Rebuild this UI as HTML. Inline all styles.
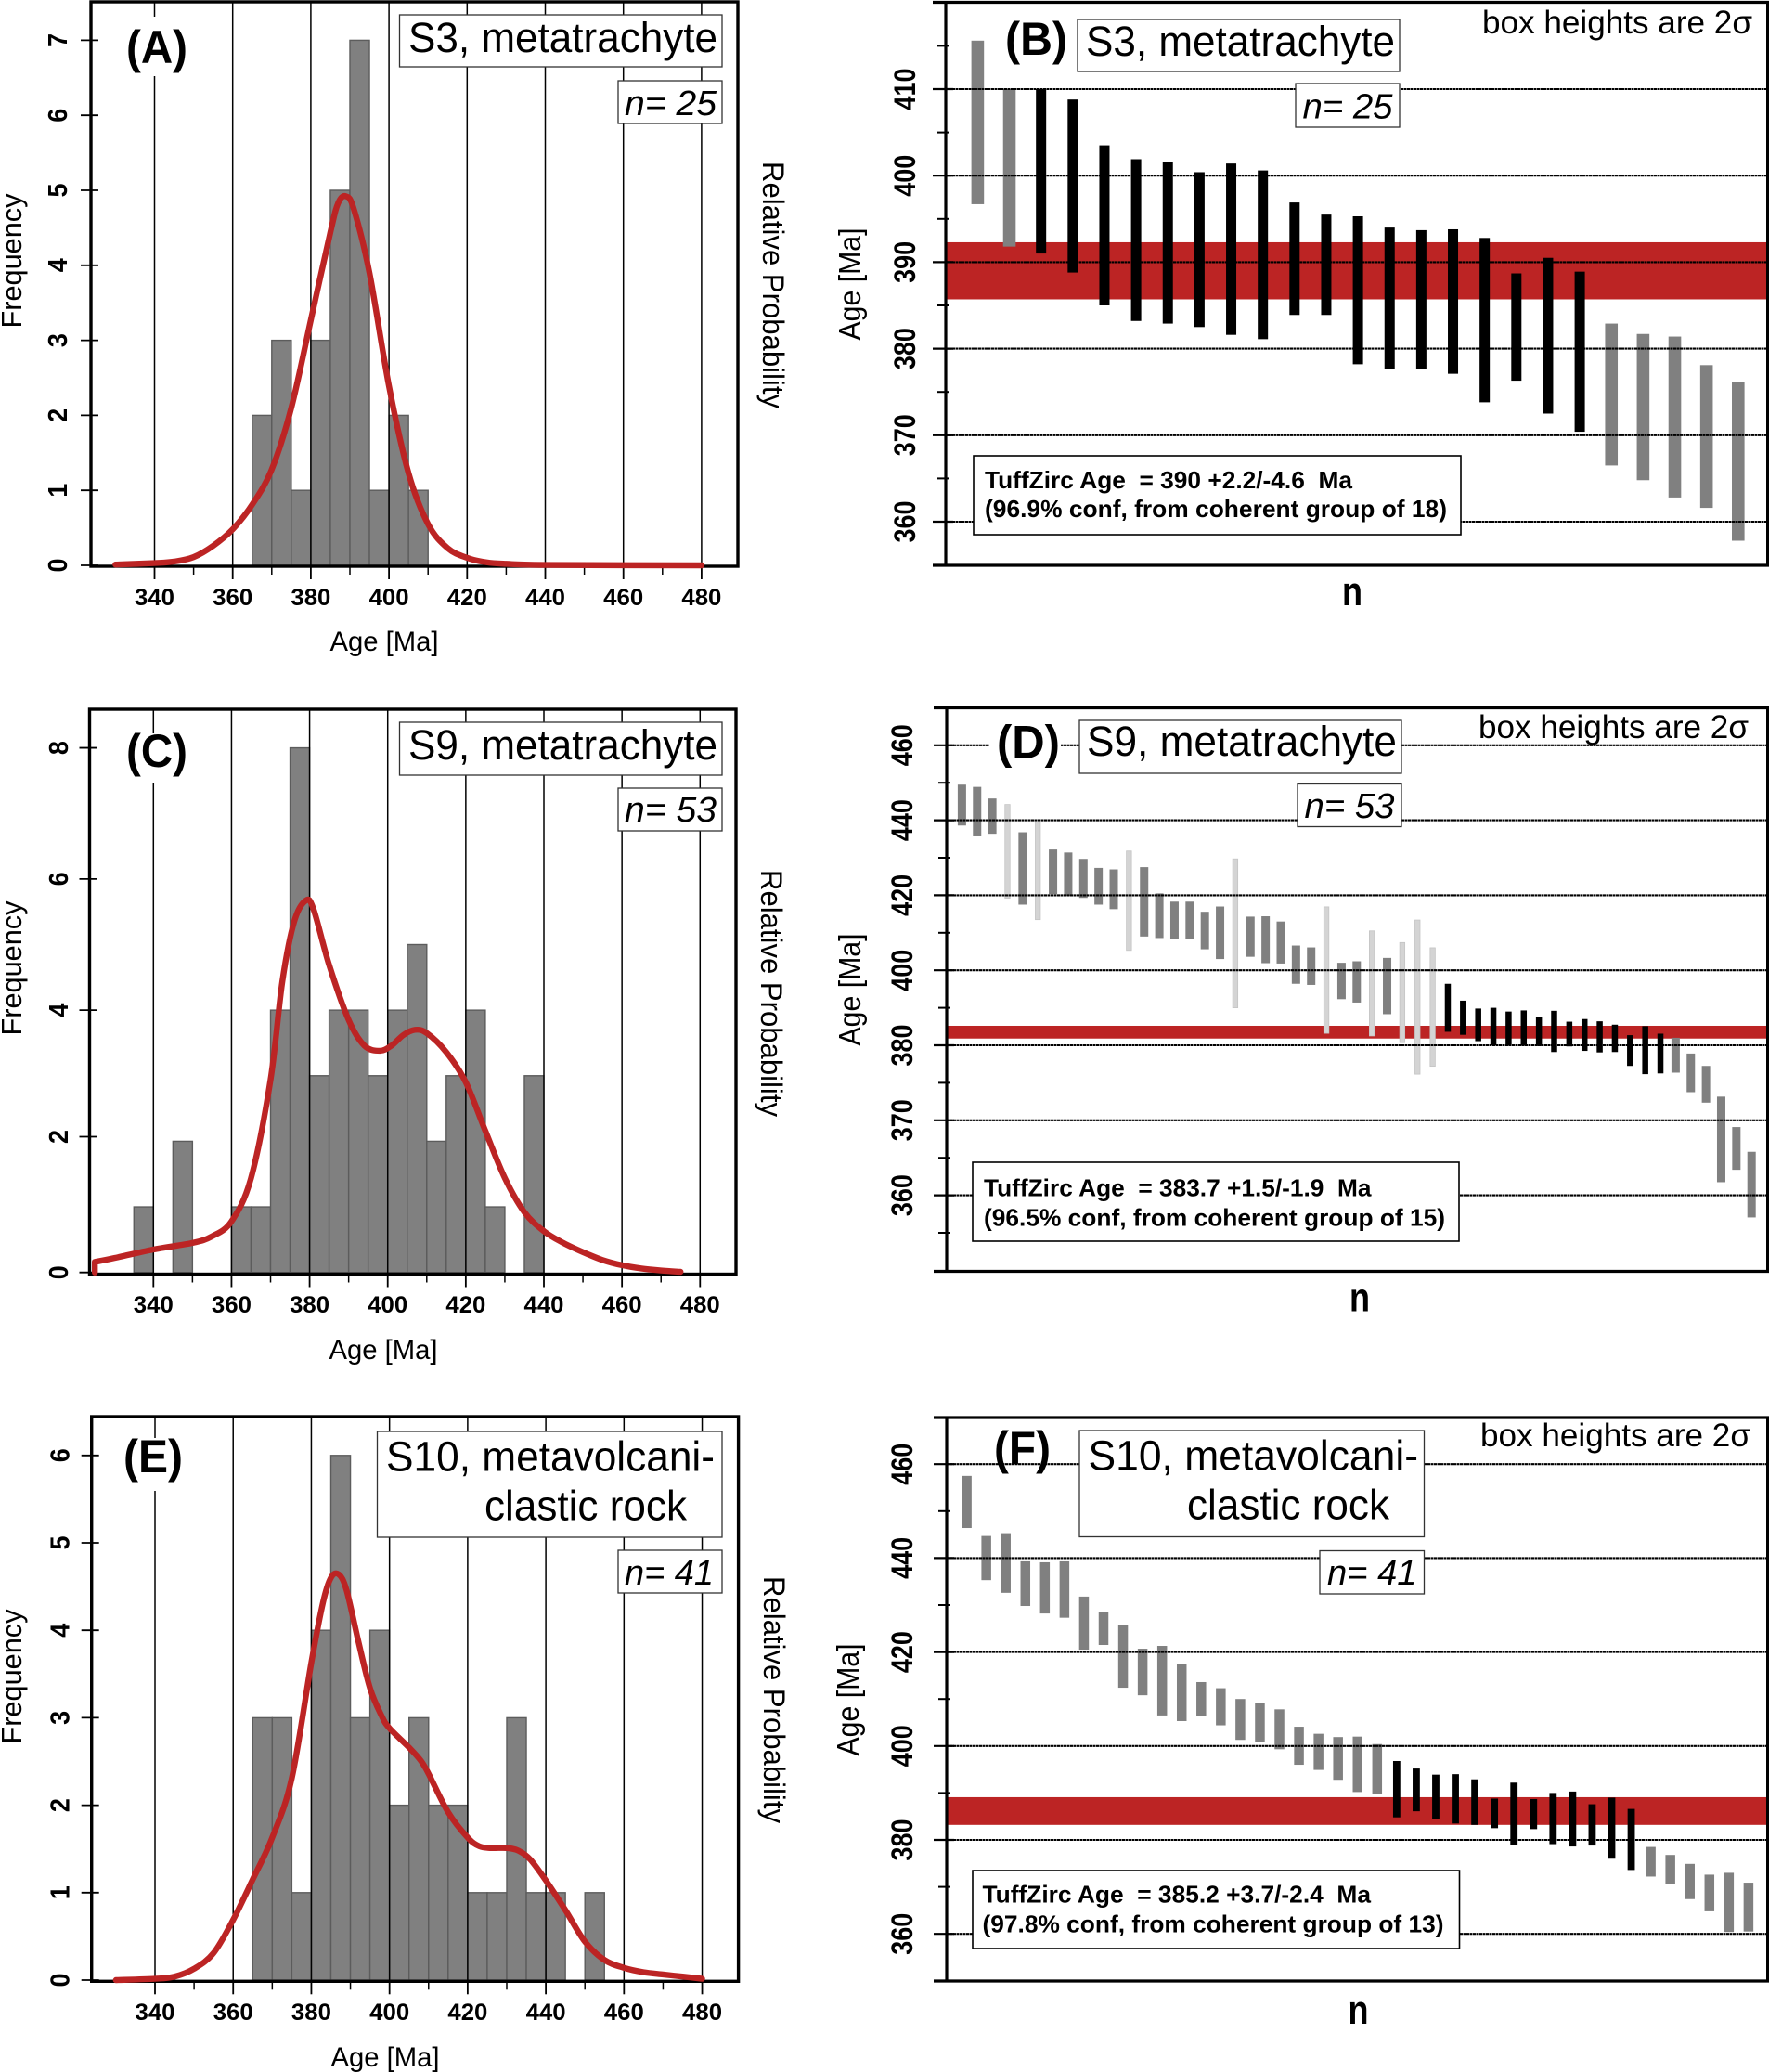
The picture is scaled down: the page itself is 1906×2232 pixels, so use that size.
<!DOCTYPE html>
<html lang="en">
<head>
<meta charset="utf-8">
<title>TuffZirc age plots for samples S3, S9 and S10</title>
<style>
html,body{margin:0;padding:0;background:#fff;}
svg{display:block;font-family:"Liberation Sans",Arial,sans-serif;}
.title{font-size:45px;fill:#000;}
.nlab{font-size:38px;font-style:italic;fill:#000;}
.plab{font-size:50px;font-weight:bold;fill:#000;}
.note{font-size:35px;fill:#000;}
.tuff{font-size:26px;font-weight:bold;fill:#000;white-space:pre;}
.nax{font-size:44px;font-weight:bold;fill:#000;}
.box{fill:#fff;stroke:#333;stroke-width:1.3;}
.tbox{fill:#fff;stroke:#000;stroke-width:1.6;}
</style>
</head>
<body>
<svg id="figure" xmlns="http://www.w3.org/2000/svg" width="1906" height="2232" viewBox="0 0 1906 2232">
<rect width="1906" height="2232" fill="#fff"/>

<g>
  <g id="panel-a-marks"></g>
  <rect x="134" y="18" width="70" height="64" fill="#fff"/>
  <text class="plab" x="136" y="68" textLength="66" lengthAdjust="spacingAndGlyphs">(A)</text>
  <rect class="box" x="430.5" y="16" width="347.5" height="56"/>
  <text class="title" x="440" y="56" textLength="333" lengthAdjust="spacingAndGlyphs">S3, metatrachyte</text>
  <rect class="box" x="666" y="87" width="112" height="46"/>
  <text class="nlab" x="673" y="124" textLength="99" lengthAdjust="spacingAndGlyphs">n= 25</text>
</g>

<g>
  <g id="panel-b-marks"></g>
  <text class="plab" x="1083" y="59" textLength="67" lengthAdjust="spacingAndGlyphs">(B)</text>
  <rect class="box" x="1161" y="21" width="347" height="56"/>
  <text class="title" x="1170" y="60" textLength="333" lengthAdjust="spacingAndGlyphs">S3, metatrachyte</text>
  <rect class="box" x="1396" y="90" width="112" height="47"/>
  <text class="nlab" x="1403.5" y="127.5" textLength="97" lengthAdjust="spacingAndGlyphs">n= 25</text>
  <text class="note" x="1597" y="36" textLength="291" lengthAdjust="spacingAndGlyphs">box heights are 2σ</text>
  <rect class="tbox" x="1049" y="491" width="525" height="85"/>
  <text class="tuff" x="1061" y="526" textLength="396" lengthAdjust="spacingAndGlyphs" xml:space="preserve">TuffZirc Age  = 390 +2.2/-4.6  Ma</text>
  <text class="tuff" x="1061" y="557" textLength="498" lengthAdjust="spacingAndGlyphs">(96.9% conf, from coherent group of 18)</text>
  <text class="nax" x="1446" y="652" textLength="22" lengthAdjust="spacingAndGlyphs">n</text>
</g>

<g>
  <g id="panel-c-marks"></g>
  <rect x="134" y="790" width="70" height="54" fill="#fff"/>
  <text class="plab" x="136" y="826" textLength="66" lengthAdjust="spacingAndGlyphs">(C)</text>
  <rect class="box" x="430.5" y="778" width="347.5" height="57"/>
  <text class="title" x="440" y="818" textLength="333" lengthAdjust="spacingAndGlyphs">S9, metatrachyte</text>
  <rect class="box" x="666" y="849" width="112" height="46"/>
  <text class="nlab" x="673" y="885" textLength="99" lengthAdjust="spacingAndGlyphs">n= 53</text>
</g>

<g>
  <g id="panel-d-marks"></g>
  <rect x="1066" y="780" width="77" height="50" fill="#fff"/>
  <text class="plab" x="1074" y="816.5" textLength="68" lengthAdjust="spacingAndGlyphs">(D)</text>
  <rect class="box" x="1163" y="776" width="347" height="57"/>
  <text class="title" x="1171" y="814" textLength="334" lengthAdjust="spacingAndGlyphs">S9, metatrachyte</text>
  <rect class="box" x="1398" y="844.5" width="112" height="46"/>
  <text class="nlab" x="1405.5" y="881" textLength="97" lengthAdjust="spacingAndGlyphs">n= 53</text>
  <text class="note" x="1593" y="795" textLength="291" lengthAdjust="spacingAndGlyphs">box heights are 2σ</text>
  <rect class="tbox" x="1048" y="1252" width="524" height="85"/>
  <text class="tuff" x="1060" y="1288.5" textLength="417.5" lengthAdjust="spacingAndGlyphs" xml:space="preserve">TuffZirc Age  = 383.7 +1.5/-1.9  Ma</text>
  <text class="tuff" x="1060" y="1320.5" textLength="497" lengthAdjust="spacingAndGlyphs">(96.5% conf, from coherent group of 15)</text>
  <text class="nax" x="1454" y="1412.5" textLength="22" lengthAdjust="spacingAndGlyphs">n</text>
</g>

<g>
  <g id="panel-e-marks"></g>
  <rect x="131" y="1549" width="68" height="57" fill="#fff"/>
  <text class="plab" x="133" y="1586" textLength="64" lengthAdjust="spacingAndGlyphs">(E)</text>
  <rect class="box" x="406.5" y="1542" width="371.5" height="114"/>
  <text class="title" x="416" y="1584.5" textLength="354" lengthAdjust="spacingAndGlyphs">S10, metavolcani-</text>
  <text class="title" x="522" y="1637.5" textLength="218" lengthAdjust="spacingAndGlyphs">clastic rock</text>
  <rect class="box" x="666" y="1670" width="112" height="46"/>
  <text class="nlab" x="673" y="1707" textLength="96" lengthAdjust="spacingAndGlyphs">n= 41</text>
</g>

<g>
  <g id="panel-f-marks"></g>
  <text class="plab" x="1071" y="1577" textLength="61" lengthAdjust="spacingAndGlyphs">(F)</text>
  <rect class="box" x="1163" y="1541" width="371.5" height="114.5"/>
  <text class="title" x="1172.5" y="1583.5" textLength="355.5" lengthAdjust="spacingAndGlyphs">S10, metavolcani-</text>
  <text class="title" x="1279" y="1636.5" textLength="218" lengthAdjust="spacingAndGlyphs">clastic rock</text>
  <rect class="box" x="1422" y="1670.5" width="112.5" height="46.5"/>
  <text class="nlab" x="1430" y="1707" textLength="96.5" lengthAdjust="spacingAndGlyphs">n= 41</text>
  <text class="note" x="1595" y="1558" textLength="291" lengthAdjust="spacingAndGlyphs">box heights are 2σ</text>
  <rect class="tbox" x="1048" y="2015" width="524.5" height="84"/>
  <text class="tuff" x="1058.5" y="2049.5" textLength="418.5" lengthAdjust="spacingAndGlyphs" xml:space="preserve">TuffZirc Age  = 385.2 +3.7/-2.4  Ma</text>
  <text class="tuff" x="1058.5" y="2081.5" textLength="497" lengthAdjust="spacingAndGlyphs">(97.8% conf, from coherent group of 13)</text>
  <text class="nax" x="1452.5" y="2180" textLength="22" lengthAdjust="spacingAndGlyphs">n</text>
</g>
</svg>

<script>
/* ---------- shared axis values ---------- */
const ageTickLabels = [340, 360, 380, 400, 420, 440, 460, 480];
const ageMinorTicks = [350, 370, 390, 410, 430, 450, 470];

/* ---------- panel A ---------- */
const panelABinStarts = [365, 370, 375, 380, 385, 390, 395, 400, 405];
const panelACounts = [2, 3, 1, 3, 5, 7, 1, 2, 1];
const panelAFreqTicks = [0, 1, 2, 3, 4, 5, 6, 7];
const panelAFreqLabels = ["0", "1", "2", "3", "4", "5", "6", "7"];
const panelACurveAges = [330, 340, 345, 350, 355, 360, 365, 370, 375, 380, 385, 387, 389, 391, 395, 400, 405, 410, 415, 420, 425, 430, 440, 480];
const panelACurveValues = [0.01, 0.03, 0.05, 0.11, 0.26, 0.48, 0.81, 1.28, 2.1, 3.27, 4.44, 4.83, 4.92, 4.75, 3.9, 2.39, 1.23, 0.55, 0.23, 0.1, 0.04, 0.02, 0.005, 0];

/* ---------- panel B ---------- */
const panelBUpper = [415.6, 410, 410, 408.8, 403.5, 401.9, 401.6, 400.4, 401.4, 400.6, 396.9, 395.5, 395.3, 394, 393.7, 393.8, 392.8, 388.7, 390.5, 388.9, 382.9, 381.7, 381.4, 378.1, 376.1];
const panelBLower = [396.7, 391.8, 391, 388.8, 385, 383.2, 382.9, 382.5, 381.6, 381.1, 383.9, 383.9, 378.2, 377.7, 377.6, 377.1, 373.8, 376.3, 372.5, 370.4, 366.5, 364.8, 362.8, 361.6, 357.8];
const panelBKinds = "ggkkkkkkkkkkkkkkkkkkggggg";
const panelBBand = [392.3, 385.7];
const panelBGridAges = [410, 400, 390, 380, 370, 360];
const panelBGridLabels = ["410", "400", "390", "380", "370", "360"];
const panelBMinorAges = [415, 405, 395, 385, 375, 365];

/* ---------- panel C (the "2" tick sits slightly high in the source figure) ---------- */
const panelCBinStarts = [335, 345, 360, 365, 370, 375, 380, 385, 390, 395, 400, 405, 410, 415, 420, 425, 435];
const panelCCounts = [1, 2, 1, 1, 4, 8, 3, 4, 4, 3, 4, 5, 2, 3, 4, 1, 3];
const panelCFreqTicks = [0, 2.07, 4, 6, 8];
const panelCFreqLabels = ["0", "2", "4", "6", "8"];
const panelCCurveAges = [325, 330, 340, 350, 355, 360, 365, 370, 373, 376, 379, 381, 385, 390, 394, 398, 401, 404, 407, 410, 415, 420, 425, 430, 435, 440, 445, 450, 455, 460, 465, 470, 475];
const panelCCurveValues = [0.16, 0.22, 0.35, 0.45, 0.55, 0.78, 1.44, 2.94, 4.43, 5.34, 5.67, 5.54, 4.69, 3.85, 3.46, 3.38, 3.46, 3.62, 3.7, 3.65, 3.36, 2.9, 2.16, 1.44, 0.92, 0.63, 0.45, 0.31, 0.19, 0.11, 0.06, 0.03, 0.01];

/* ---------- panel D (labels below 380 are printed as in the source figure) ---------- */
const panelDUpper = [449.5, 448.9, 445.8, 444.2, 436.8, 439.5, 432.2, 431.4, 429.7, 427.3, 426.9, 431.8, 427.5, 420.5, 418.3, 418.3, 415.6, 417, 429.7, 414.3, 414.4, 413, 406.6, 406.1, 416.9, 402, 402.4, 410.5, 403.3, 407.4, 413.4, 406, 396.4, 391.9, 389.8, 390, 389, 389.3, 387.6, 389.2, 386.3, 387, 386.4, 385.5, 382.7, 385.1, 383.1, 382, 377.8, 374.5, 366.3, 358.2, 351.6];
const panelDLower = [438.6, 435.7, 436.4, 419.2, 417.5, 413.5, 420.3, 419.8, 419.3, 417.5, 416.3, 405.3, 409, 408.6, 408.4, 408.3, 405.6, 403, 390, 403.6, 401.9, 401.8, 396.4, 396.1, 383.2, 392.3, 391.4, 382.5, 388.3, 380.7, 372.3, 374.4, 383.6, 382.8, 381.1, 380, 379.9, 379.9, 379.8, 378.2, 379.7, 378.5, 378.1, 378.2, 374.5, 372.3, 372.5, 372.7, 367.5, 364.7, 343.5, 346.8, 334.1];
const panelDKinds = "gggl" + "glgggggl" + "ggggggl" + "gggggl" + "gglgll" + "l" + "kkkkkkkkkkkkkkk" + "gggggg";
const panelDBand = [385.2, 381.8];
const panelDGridAges = [460, 440, 420, 400, 380, 360, 340];
const panelDGridLabels = ["460", "440", "420", "400", "380", "370", "360"];
const panelDMinorAges = [450, 430, 410, 390, 370, 350, 330];

/* ---------- panel E ---------- */
const panelEBinStarts = [365, 370, 375, 380, 385, 390, 395, 400, 405, 410, 415, 420, 425, 430, 435, 440, 450];
const panelECounts = [3, 3, 1, 4, 6, 3, 4, 2, 3, 2, 2, 1, 1, 3, 1, 1, 1];
const panelEFreqTicks = [0, 1, 2, 3, 4, 5, 6];
const panelEFreqLabels = ["0", "1", "2", "3", "4", "5", "6"];
const panelECurveAges = [330, 340, 345, 350, 355, 360, 365, 370, 375, 380, 383, 385, 387, 389, 392, 395, 398, 400, 405, 408, 410, 415, 420, 423, 426, 430, 433, 436, 440, 445, 450, 455, 460, 465, 470, 475, 480];
const panelECurveValues = [0, 0.015, 0.04, 0.13, 0.31, 0.69, 1.15, 1.63, 2.31, 3.63, 4.32, 4.6, 4.64, 4.46, 3.88, 3.34, 3.02, 2.88, 2.66, 2.51, 2.36, 1.92, 1.63, 1.53, 1.51, 1.51, 1.48, 1.38, 1.14, 0.8, 0.44, 0.23, 0.14, 0.09, 0.064, 0.04, 0.015];

/* ---------- panel F ---------- */
const panelFUpper = [457.5, 444.7, 445.3, 439.3, 439.1, 439.3, 431.8, 428.5, 425.7, 420.7, 421.3, 417.5, 413.6, 412.3, 410, 409.1, 407.8, 404.1, 402.6, 401.9, 402, 400.4, 396.8, 395.2, 393.9, 394, 392.9, 388.8, 392.2, 388.7, 390, 390.3, 387.6, 389, 386.6, 378.5, 376.8, 374.9, 372.6, 373, 370.9];
const panelFLower = [446.4, 435.3, 432.6, 429.8, 428.2, 427.3, 420.5, 421.5, 412.4, 410.8, 406.5, 405.3, 406.4, 404.4, 401.3, 400.9, 399.3, 396, 394.9, 392.8, 390.2, 389.8, 384.8, 386.1, 384.4, 383.5, 383.2, 382.5, 378.9, 382.3, 379.1, 378.6, 378.8, 376, 373.6, 372.2, 370.7, 367.4, 364.8, 360.4, 360.5];
const panelFKinds = "gggggggggggggggggggggg" + "kkkkkkkkkkkkk" + "gggggg";
const panelFBand = [389.1, 383.2];
const panelFGridAges = [460, 440, 420, 400, 380, 360];
const panelFGridLabels = ["460", "440", "420", "400", "380", "360"];
const panelFMinorAges = [450, 430, 410, 390, 370];

/* ---------- helpers ---------- */
const SVGNS = "http://www.w3.org/2000/svg";
const RED = "#bc2424";

function make(tag, parent) {
  const el = document.createElementNS(SVGNS, tag);
  parent.appendChild(el);
  return el;
}
function setLine(el, x1, y1, x2, y2, color, width) {
  el.setAttribute("x1", x1);
  el.setAttribute("y1", y1);
  el.setAttribute("x2", x2);
  el.setAttribute("y2", y2);
  el.setAttribute("stroke", color);
  el.setAttribute("stroke-width", width);
}
function setText(el, str, x, y, size, bold, length, rotate) {
  el.textContent = str;
  el.setAttribute("x", x);
  el.setAttribute("y", y);
  el.setAttribute("font-size", size);
  el.setAttribute("font-weight", bold ? "bold" : "normal");
  el.setAttribute("text-anchor", "middle");
  el.setAttribute("fill", "#000");
  el.setAttribute("textLength", length);
  el.setAttribute("lengthAdjust", "spacingAndGlyphs");
  if (rotate) el.setAttribute("transform", "rotate(" + rotate + " " + x + " " + y + ")");
}
function smoothPath(points, startFrom) {
  let d = startFrom ? "M" + startFrom[0] + " " + startFrom[1] + "L" + points[0][0] + " " + points[0][1]
                    : "M" + points[0][0] + " " + points[0][1];
  for (let i = 0; i < points.length - 1; i++) {
    const p0 = points[Math.max(i - 1, 0)];
    const p1 = points[i];
    const p2 = points[i + 1];
    const p3 = points[Math.min(i + 2, points.length - 1)];
    const c1x = p1[0] + (p2[0] - p0[0]) / 6;
    const c1y = p1[1] + (p2[1] - p0[1]) / 6;
    const c2x = p2[0] - (p3[0] - p1[0]) / 6;
    const c2y = p2[1] - (p3[1] - p1[1]) / 6;
    d += "C" + c1x.toFixed(2) + " " + c1y.toFixed(2) + " " + c2x.toFixed(2) + " " + c2y.toFixed(2) + " " + p2[0].toFixed(2) + " " + p2[1].toFixed(2);
  }
  return d;
}

/* ---------- histogram panels ---------- */
function drawHistogram(id, s) {
  const root = document.getElementById("panel-" + id + "-marks");
  const xScale = a => s.x340 + (a - 340) * s.kx;
  const yScale = v => s.y0 - v * s.ky;

  s.binStarts.forEach(function (bin, i) {
    const bar = make("rect", root);
    
    
    bar.setAttribute("x", xScale(bin));
    bar.setAttribute("y", yScale(s.counts[i]));
    bar.setAttribute("width", xScale(bin + 5) - xScale(bin));
    bar.setAttribute("height", yScale(0) - yScale(s.counts[i]));
    bar.setAttribute("fill", "#808080");
    bar.setAttribute("stroke", "#5c5c5c");
    bar.setAttribute("stroke-width", "1.4");
  });

  ageTickLabels.forEach(function (age) {
    const grid = make("line", root);
    
    
    setLine(grid, xScale(age), s.top, xScale(age), s.bottom, "#000", 1.5);

    const tick = make("line", root);
    
    
    setLine(tick, xScale(age), s.bottom, xScale(age), s.bottom + 14, "#000", 1.8);

    const label = make("text", root);
    
    
    setText(label, String(age), xScale(age), s.xLabelY, 25, true, 43);
  });
  ageMinorTicks.forEach(function (age) {
    const tick = make("line", root);
    
    
    setLine(tick, xScale(age), s.bottom, xScale(age), s.bottom + 9, "#000", 1.5);
  });

  s.freqTicks.forEach(function (v, i) {
    const tick = make("line", root);
    
    
    setLine(tick, s.left - 11, yScale(v), s.left + 8, yScale(v), "#000", 1.8);

    const label = make("text", root);
    
    
    setText(label, s.freqLabels[i], s.yLabelX, yScale(v), 29, true, 15, -90);
  });

  const frame = make("rect", root);
  
  
  frame.setAttribute("x", s.left);
  frame.setAttribute("y", s.top);
  frame.setAttribute("width", s.right - s.left);
  frame.setAttribute("height", s.bottom - s.top);
  frame.setAttribute("fill", "none");
  frame.setAttribute("stroke", "#000");
  frame.setAttribute("stroke-width", "3.4");

  const curve = make("path", root);
  
  
  const pts = s.curveAges.map((a, i) => [xScale(a), yScale(s.curveValues[i])]);
  curve.setAttribute("d", smoothPath(pts, s.dropToBase ? [pts[0][0], yScale(0)] : null));
  curve.setAttribute("fill", "none");
  curve.setAttribute("stroke", RED);
  curve.setAttribute("stroke-width", "6.4");
  curve.setAttribute("stroke-linejoin", "round");
  curve.setAttribute("stroke-linecap", "round");

  const xTitle = make("text", root);
  
  
  setText(xTitle, "Age [Ma]", s.xTitleX, s.xTitleY, 30, false, 117);

  const yTitle = make("text", root);
  
  
  setText(yTitle, "Frequency", 23, s.freqTitleY, 31, false, 145, -90);

  const rightTitle = make("text", root);
  
  
  setText(rightTitle, "Relative Probability", s.probX, s.probY, 32, false, 266, 90);
}

/* ---------- ranked age-bar panels ---------- */
function drawAgeBars(id, s) {
  const root = document.getElementById("panel-" + id + "-marks");
  const yScale = a => s.refY + (s.refAge - a) * s.ky;
  const count = s.upper.length;
  const xScale = i => s.firstX + i * (s.lastX - s.firstX) / (count - 1);
  const colors = { g: "#808080", k: "#000000", l: "#d4d4d4" };

  const band = make("rect", root);
  
  
  band.setAttribute("x", s.left);
  band.setAttribute("y", yScale(s.band[0]));
  band.setAttribute("width", s.right - s.left);
  band.setAttribute("height", yScale(s.band[1]) - yScale(s.band[0]));
  band.setAttribute("fill", RED);

  s.upper.forEach(function (u, i) {
    const kind = s.kinds[i];
    const w = s.widths[kind];
    const bar = make("rect", root);
    
    
    bar.setAttribute("x", xScale(i) - w / 2);
    bar.setAttribute("y", yScale(u));
    bar.setAttribute("width", w);
    bar.setAttribute("height", yScale(s.lower[i]) - yScale(u));
    bar.setAttribute("fill", colors[kind]);
    if (kind === "l") {
      bar.setAttribute("stroke", "#c4c4c4");
      bar.setAttribute("stroke-width", "0.8");
    }
  });

  s.gridAges.forEach(function (age, i) {
    const grid = make("line", root);
    
    
    setLine(grid, s.left, yScale(age), s.right, yScale(age), "#000", 2.1);
    grid.setAttribute("stroke-dasharray", "3 0.5");

    const tick = make("line", root);
    
    
    setLine(tick, s.left - 14, yScale(age), s.left + 8, yScale(age), "#000", 2.2);

    const label = make("text", root);
    
    
    setText(label, s.gridLabels[i], s.labelX, yScale(age), 32, true, 45, -90);
  });

  s.minorAges.forEach(function (age) {
    const tick = make("line", root);
    
    
    setLine(tick, s.left - 9, yScale(age), s.left + 4, yScale(age), "#000", 2);
  });

  const spineLeft = make("line", root);
  
  
  setLine(spineLeft, s.left, s.top, s.left, s.bottom, "#000", 3.2);

  const spineRight = make("line", root);
  
  
  setLine(spineRight, s.right, s.top, s.right, s.bottom, "#000", 3);

  const spineTop = make("line", root);
  
  
  setLine(spineTop, s.left - 14, s.top, s.right + 1.5, s.top, "#000", 3.2);

  const spineBottom = make("line", root);
  
  
  setLine(spineBottom, s.left - 14, s.bottom, s.right + 1.5, s.bottom, "#000", 3.2);

  const yTitle = make("text", root);
  
  
  setText(yTitle, "Age [Ma]", s.titleX, s.titleY, 33, false, 121, -90);
}

/* ---------- draw ---------- */
drawHistogram("a", {
  binStarts: panelABinStarts, counts: panelACounts, freqTicks: panelAFreqTicks, freqLabels: panelAFreqLabels,
  curveAges: panelACurveAges, curveValues: panelACurveValues, dropToBase: false,
  x340: 166.5, kx: 4.21, y0: 609, ky: 80.8, left: 98, right: 795, top: 2, bottom: 610,
  xLabelY: 652, yLabelX: 72, xTitleX: 414, xTitleY: 701, freqTitleY: 281, probX: 822, probY: 307
});
drawAgeBars("b", {
  upper: panelBUpper, lower: panelBLower, kinds: panelBKinds, band: panelBBand,
  gridAges: panelBGridAges, gridLabels: panelBGridLabels, minorAges: panelBMinorAges,
  refAge: 410, refY: 96, ky: 9.32, left: 1019, right: 1904.5, top: 2.5, bottom: 609,
  firstX: 1053.4, lastX: 1872.8, widths: { g: 13.6, k: 11, l: 6 },
  labelX: 986, titleX: 927, titleY: 306
});
drawHistogram("c", {
  binStarts: panelCBinStarts, counts: panelCCounts, freqTicks: panelCFreqTicks, freqLabels: panelCFreqLabels,
  curveAges: panelCCurveAges, curveValues: panelCCurveValues, dropToBase: true,
  x340: 165.3, kx: 4.207, y0: 1370.7, ky: 70.64, left: 96.5, right: 793, top: 764, bottom: 1372.5,
  xLabelY: 1414, yLabelX: 73, xTitleX: 413, xTitleY: 1464, freqTitleY: 1043, probX: 820, probY: 1070
});
drawAgeBars("d", {
  upper: panelDUpper, lower: panelDLower, kinds: panelDKinds, band: panelDBand,
  gridAges: panelDGridAges, gridLabels: panelDGridLabels, minorAges: panelDMinorAges,
  refAge: 460, refY: 802.8, ky: 4.04, left: 1020, right: 1904.5, top: 762.5, bottom: 1369.5,
  firstX: 1036.4, lastX: 1887.2, widths: { g: 9, k: 6.5, l: 5.5 },
  labelX: 983, titleX: 927, titleY: 1066
});
drawHistogram("e", {
  binStarts: panelEBinStarts, counts: panelECounts, freqTicks: panelEFreqTicks, freqLabels: panelEFreqLabels,
  curveAges: panelECurveAges, curveValues: panelECurveValues, dropToBase: false,
  x340: 167, kx: 4.211, y0: 2133, ky: 94.2, left: 98.7, right: 795.6, top: 1526, bottom: 2134.3,
  xLabelY: 2176, yLabelX: 74.5, xTitleX: 415, xTitleY: 2226, freqTitleY: 1806, probX: 823, probY: 1831
});
drawAgeBars("f", {
  upper: panelFUpper, lower: panelFLower, kinds: panelFKinds, band: panelFBand,
  gridAges: panelFGridAges, gridLabels: panelFGridLabels, minorAges: panelFMinorAges,
  refAge: 460, refY: 1577.2, ky: 5.06, left: 1020, right: 1904.5, top: 1527, bottom: 2134,
  firstX: 1041.6, lastX: 1883.9, widths: { g: 10.5, k: 7.8, l: 6 },
  labelX: 983, titleX: 925, titleY: 1831
});
</script>
</body>
</html>
